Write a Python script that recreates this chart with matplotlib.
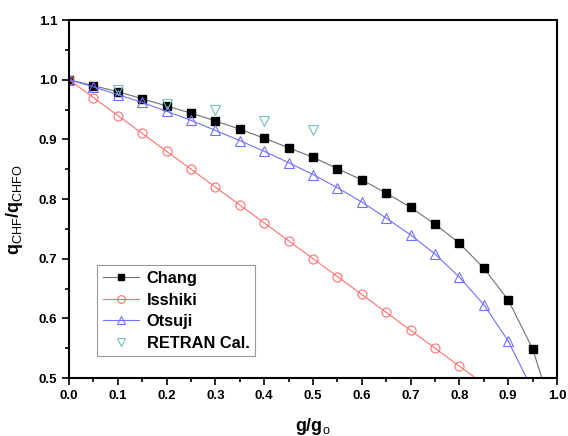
import matplotlib
matplotlib.use("Agg")
import matplotlib.pyplot as plt
from matplotlib.ticker import MultipleLocator

plt.rcParams['font.family'] = ['Liberation Sans', 'DejaVu Sans']
plt.rcParams['mathtext.fontset'] = 'custom'
plt.rcParams['mathtext.rm'] = 'Liberation Sans'
plt.rcParams['mathtext.bf'] = 'Liberation Sans:bold'
plt.rcParams['mathtext.it'] = 'Liberation Sans:italic'

chang_x = [0.0, 0.05, 0.1, 0.15, 0.2, 0.25, 0.3, 0.35, 0.4, 0.45, 0.5, 0.55, 0.6, 0.65, 0.7, 0.75, 0.8, 0.85, 0.9, 0.95, 1.0]
chang_y = [1.0, 0.990, 0.980, 0.968, 0.956, 0.944, 0.931, 0.917, 0.902, 0.886, 0.870, 0.851, 0.832, 0.810, 0.786, 0.758, 0.726, 0.684, 0.631, 0.549, 0.42]

isshiki_x = [0.0, 0.05, 0.1, 0.15, 0.2, 0.25, 0.3, 0.35, 0.4, 0.45, 0.5, 0.55, 0.6, 0.65, 0.7, 0.75, 0.8, 0.85]
isshiki_y = [1.0, 0.97, 0.94, 0.91, 0.88, 0.85, 0.82, 0.79, 0.76, 0.73, 0.70, 0.67, 0.64, 0.61, 0.58, 0.55, 0.52, 0.49]

otsuji_x = [0.0, 0.05, 0.1, 0.15, 0.2, 0.25, 0.3, 0.35, 0.4, 0.45, 0.5, 0.55, 0.6, 0.65, 0.7, 0.75, 0.8, 0.85, 0.9, 0.95]
otsuji_y = [1.0, 0.988, 0.975, 0.962, 0.947, 0.932, 0.915, 0.898, 0.880, 0.861, 0.841, 0.819, 0.795, 0.768, 0.740, 0.708, 0.669, 0.623, 0.562, 0.48]

retran_x = [0.1, 0.2, 0.3, 0.4, 0.5]
retran_y = [0.983, 0.960, 0.950, 0.930, 0.916]

fig = plt.figure(figsize=(5.68, 4.36), dpi=100)
ax = fig.add_axes([0.1215, 0.133, 0.8591, 0.821])

ax.plot(chang_x, chang_y, color='#707070', lw=0.8, marker='s', ms=5.5,
        mfc='black', mec='black', label='Chang')
ax.plot(isshiki_x, isshiki_y, color='#ff7070', lw=0.8, marker='o', ms=6.5,
        mfc='none', mec='#ff7070', mew=0.8, label='Isshiki')
ax.plot(otsuji_x, otsuji_y, color='#7070ff', lw=0.8, marker='^', ms=7.5,
        mfc='none', mec='#7070ff', mew=0.8, label='Otsuji')
ax.plot(retran_x, retran_y, ls='none', marker='v', ms=7.5,
        mfc='none', mec='#70c0c0', mew=0.8, label='RETRAN Cal.')

ax.set_xlim(0.0, 1.0)
ax.set_ylim(0.5, 1.1)
ax.xaxis.set_major_locator(MultipleLocator(0.1))
ax.xaxis.set_minor_locator(MultipleLocator(0.05))
ax.yaxis.set_major_locator(MultipleLocator(0.1))
ax.yaxis.set_minor_locator(MultipleLocator(0.05))
ax.tick_params(axis='both', which='major', direction='out', length=5, width=1.2,
               labelsize=9.5, top=False, right=False)
ax.tick_params(axis='both', which='minor', direction='out', length=3, width=1.2,
               top=False, right=False)
for lab in ax.get_xticklabels() + ax.get_yticklabels():
    lab.set_fontweight('bold')
ax.xaxis.set_major_formatter(plt.FuncFormatter(lambda v, p: f"{v:.1f}"))
ax.yaxis.set_major_formatter(plt.FuncFormatter(lambda v, p: f"{v:.1f}"))
for s in ax.spines.values():
    s.set_linewidth(1.5)

ax.set_xlabel(r'$\mathbf{g/g}_{\mathrm{o}}$', fontsize=13, labelpad=10)
ax.set_ylabel(r'$\mathbf{q}_{\mathrm{CHF}}\mathbf{/q}_{\mathrm{CHFO}}$', fontsize=13, labelpad=8)
ax.yaxis.set_label_coords(-0.09, 0.47)

leg = ax.legend(loc='upper left', bbox_to_anchor=(0.057, 0.315), frameon=True,
                fancybox=False, edgecolor='#808080', prop={'weight': 'bold', 'size': 11.8},
                handlelength=2.2, handletextpad=0.5, borderpad=0.35, labelspacing=0.4,
                borderaxespad=0, markerscale=0.85)
leg.get_frame().set_linewidth(0.8)

fig.savefig('out.png', dpi=100)
